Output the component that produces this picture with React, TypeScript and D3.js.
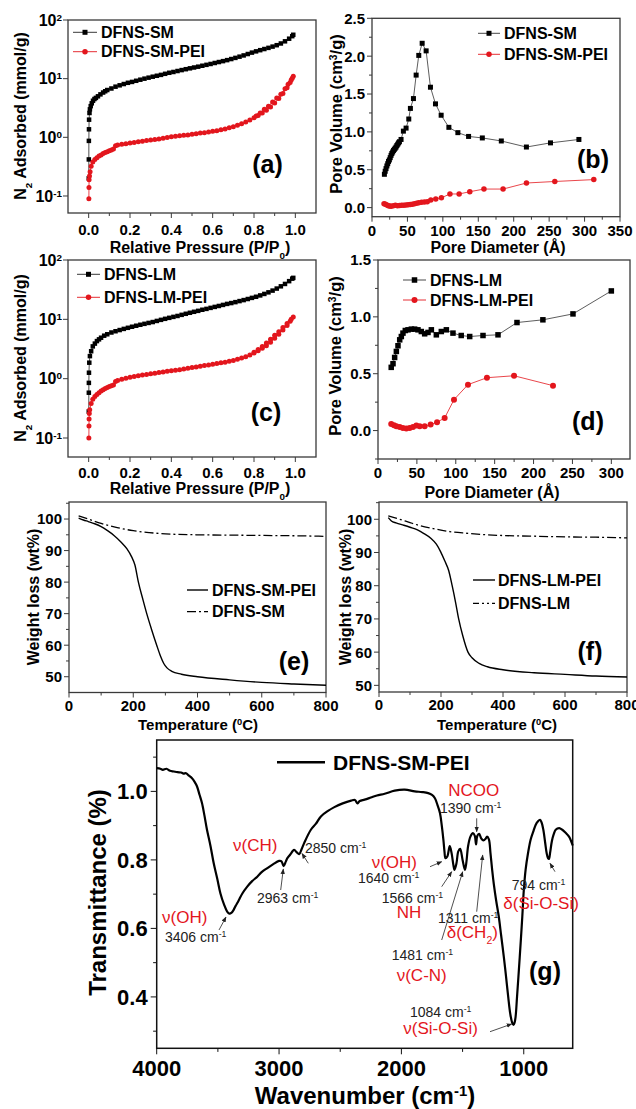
import React, { useEffect, useRef } from "react";
import * as d3 from "d3";

const W = 636;
const H = 1109;
const RED = "#e3161d";
const FONT = "'Liberation Sans', Arial, Helvetica, sans-serif";

// ---------- (a) N2 isotherms, DFNS-SM ----------
const aSM: [number, number][] = [
  [0.0005, 0.2], [0.0008, 0.42], [0.001, 0.87], [0.0015, 1.37], [0.002, 2.0], [0.004, 2.6], [0.006, 3.0],
  [0.01, 3.4], [0.015, 3.8], [0.021, 4.2], [0.028, 4.5], [0.035, 4.7], [0.045, 5.0], [0.057, 5.4], [0.07, 5.8],
  [0.08, 6.1], [0.09, 6.4], [0.11, 6.8], [0.13, 7.3], [0.15, 7.7], [0.17, 8.1], [0.19, 8.5], [0.21, 8.8],
  [0.23, 9.2], [0.25, 9.6], [0.27, 10.0], [0.29, 10.4], [0.31, 10.8], [0.33, 11.2], [0.35, 11.6], [0.37, 12.1],
  [0.39, 12.6], [0.41, 13.0], [0.43, 13.5], [0.45, 14.0], [0.47, 14.5], [0.49, 15.0], [0.51, 15.5], [0.53, 16.0],
  [0.55, 16.6], [0.57, 17.2], [0.59, 17.8], [0.61, 18.5], [0.63, 19.2], [0.65, 19.9], [0.67, 20.7], [0.69, 21.6],
  [0.71, 22.6], [0.73, 23.7], [0.75, 24.9], [0.77, 26.3], [0.79, 27.8], [0.81, 29.2], [0.83, 30.6], [0.85, 32.0],
  [0.87, 33.5], [0.89, 35.2], [0.91, 37.2], [0.93, 39.8], [0.95, 43.3], [0.97, 48.0], [0.985, 53.0], [0.99, 56.0],
];
const aSMPEI: [number, number][] = [
  [0.001, 0.09], [0.0015, 0.14], [0.002, 0.19], [0.004, 0.22], [0.007, 0.26], [0.012, 0.32], [0.02, 0.38],
  [0.03, 0.42], [0.04, 0.45], [0.05, 0.48], [0.06, 0.5], [0.07, 0.53], [0.08, 0.55], [0.09, 0.57], [0.1, 0.59],
  [0.11, 0.61], [0.12, 0.63], [0.13, 0.72], [0.14, 0.74], [0.16, 0.76], [0.18, 0.78], [0.2, 0.8], [0.22, 0.82],
  [0.24, 0.84], [0.26, 0.86], [0.28, 0.88], [0.3, 0.9], [0.32, 0.92], [0.34, 0.94], [0.36, 0.96], [0.38, 0.99],
  [0.4, 1.02], [0.42, 1.04], [0.44, 1.06], [0.46, 1.08], [0.48, 1.1], [0.5, 1.13], [0.52, 1.15], [0.54, 1.18],
  [0.56, 1.2], [0.58, 1.23], [0.6, 1.27], [0.62, 1.3], [0.64, 1.34], [0.66, 1.39], [0.68, 1.45], [0.7, 1.52],
  [0.72, 1.6], [0.74, 1.7], [0.76, 1.82], [0.78, 1.97], [0.8, 2.15], [0.82, 2.35], [0.84, 2.6], [0.86, 2.9],
  [0.88, 3.3], [0.9, 3.85], [0.92, 4.6], [0.94, 5.6], [0.96, 7.0], [0.975, 8.6], [0.985, 10.2], [0.99, 11.0],
  [0.98, 9.5], [0.965, 8.0], [0.95, 6.7], [0.93, 5.4], [0.91, 4.7], [0.89, 4.0], [0.87, 3.4], [0.85, 3.0],
  [0.83, 2.6], [0.81, 2.3],
];

// ---------- (c) N2 isotherms, DFNS-LM ----------
const cLM: [number, number][] = [
  [0.0005, 0.28], [0.0008, 0.58], [0.001, 0.85], [0.0015, 1.26], [0.003, 1.86], [0.006, 2.4], [0.012, 2.9],
  [0.02, 3.5], [0.03, 3.9], [0.04, 4.3], [0.05, 4.6], [0.06, 4.9], [0.075, 5.3], [0.09, 5.6], [0.11, 6.0],
  [0.13, 6.3], [0.15, 6.6], [0.17, 6.9], [0.19, 7.2], [0.21, 7.5], [0.23, 7.8], [0.25, 8.1], [0.27, 8.4],
  [0.29, 8.7], [0.31, 9.0], [0.33, 9.4], [0.35, 9.8], [0.37, 10.2], [0.39, 10.6], [0.41, 11.0], [0.43, 11.4],
  [0.45, 11.9], [0.47, 12.4], [0.49, 12.9], [0.51, 13.4], [0.53, 13.9], [0.55, 14.5], [0.57, 15.0], [0.59, 15.6],
  [0.61, 16.2], [0.63, 16.8], [0.65, 17.5], [0.67, 18.2], [0.69, 18.8], [0.71, 19.5], [0.73, 20.3], [0.75, 21.1],
  [0.77, 22.0], [0.79, 23.0], [0.81, 24.0], [0.83, 25.3], [0.85, 26.8], [0.87, 28.5], [0.89, 30.5], [0.91, 33.0],
  [0.93, 36.0], [0.95, 39.5], [0.97, 44.0], [0.985, 48.5], [0.99, 50.0],
];
const cLMPEI: [number, number][] = [
  [0.001, 0.1], [0.0015, 0.16], [0.002, 0.21], [0.003, 0.26], [0.005, 0.3], [0.012, 0.38], [0.02, 0.45],
  [0.03, 0.5], [0.04, 0.54], [0.05, 0.58], [0.06, 0.62], [0.07, 0.65], [0.08, 0.68], [0.09, 0.71], [0.1, 0.74],
  [0.11, 0.76], [0.12, 0.78], [0.13, 0.9], [0.14, 0.93], [0.16, 0.98], [0.18, 1.02], [0.2, 1.06], [0.22, 1.09],
  [0.24, 1.12], [0.26, 1.15], [0.28, 1.18], [0.3, 1.21], [0.32, 1.24], [0.34, 1.27], [0.36, 1.3], [0.38, 1.33],
  [0.4, 1.36], [0.42, 1.39], [0.44, 1.42], [0.46, 1.46], [0.48, 1.5], [0.5, 1.54], [0.52, 1.58], [0.54, 1.62],
  [0.56, 1.66], [0.58, 1.7], [0.6, 1.75], [0.62, 1.8], [0.64, 1.85], [0.66, 1.9], [0.68, 1.96], [0.7, 2.03],
  [0.72, 2.12], [0.74, 2.22], [0.76, 2.35], [0.78, 2.5], [0.8, 2.7], [0.82, 2.95], [0.84, 3.25], [0.86, 3.6],
  [0.88, 4.1], [0.9, 4.8], [0.92, 5.6], [0.94, 6.6], [0.96, 7.9], [0.975, 9.3], [0.99, 11.0],
  [0.98, 10.0], [0.96, 8.5], [0.94, 7.3], [0.92, 6.2], [0.9, 5.4], [0.88, 4.6], [0.86, 4.0], [0.84, 3.5],
  [0.82, 3.1], [0.8, 2.8],
];

// ---------- (b) pore size distribution, SM ----------
const bSM: [number, number][] = [
  [17.5, 0.44], [18.6, 0.48], [19.8, 0.515], [21, 0.55], [22.2, 0.58], [23.3, 0.61], [24.5, 0.63], [25.7, 0.66],
  [26.9, 0.69], [28, 0.715], [29.2, 0.735], [30.4, 0.755], [31.6, 0.77], [32.8, 0.785], [34, 0.8], [35.1, 0.82],
  [36.3, 0.837], [37.5, 0.855], [38.7, 0.87], [41, 0.9], [44.3, 1.01], [48.1, 1.05], [51.9, 1.17], [54.2, 1.31],
  [58.5, 1.44], [62.3, 1.75], [66, 2.01], [70.8, 2.17], [76.4, 2.07], [82.5, 1.59], [89.6, 1.37], [97.6, 1.22],
  [108.5, 1.06], [121.2, 0.99], [136.3, 0.94], [155.7, 0.92], [182.5, 0.88], [217.9, 0.8], [251.9, 0.855],
  [292, 0.9],
];
const bSMPEI: [number, number][] = [
  [17, 0.05], [19, 0.045], [21, 0.035], [23, 0.025], [25, 0.02], [27, 0.018], [30, 0.025], [33, 0.03],
  [36, 0.025], [39, 0.028], [42, 0.03], [45, 0.032], [48, 0.035], [51, 0.038], [54, 0.04], [57, 0.045],
  [60, 0.05], [63, 0.058], [66, 0.065], [70, 0.07], [74, 0.075], [78, 0.078], [83, 0.1], [90, 0.115],
  [98, 0.13], [110, 0.18], [123, 0.18], [138, 0.21], [158, 0.245], [185, 0.245], [218, 0.325], [258, 0.345],
  [313, 0.37],
];

// ---------- (d) pore size distribution, LM ----------
const dLM: [number, number][] = [
  [17, 0.556], [19.3, 0.588], [21.4, 0.643], [23.6, 0.696], [25.7, 0.746], [27.9, 0.798], [30, 0.827],
  [32.1, 0.857], [35.1, 0.88], [38.6, 0.886], [42.9, 0.892], [47.1, 0.892], [51.4, 0.886], [55.7, 0.871],
  [60, 0.851], [64.3, 0.863], [68.6, 0.886], [75, 0.842], [81.4, 0.871], [87.9, 0.886], [96.4, 0.857],
  [107, 0.836], [117.9, 0.827], [135, 0.836], [154.3, 0.842], [178.7, 0.95], [212, 0.974], [250.7, 1.026],
  [300, 1.228],
];
const dLMPEI: [number, number][] = [
  [17, 0.058], [20.6, 0.047], [23.6, 0.038], [27.9, 0.032], [32, 0.023], [36.4, 0.018], [40.7, 0.023],
  [45, 0.032], [49.3, 0.044], [53.6, 0.038], [60, 0.038], [67.7, 0.053], [75.9, 0.073], [85.7, 0.111],
  [97.7, 0.272], [115.7, 0.404], [140.1, 0.465], [174.9, 0.482], [225, 0.395],
];

// ---------- (e), (f) TGA ----------
const eSMPEI: [number, number][] = [
  [30, 100.3], [45, 99.7], [60, 99.2], [80, 98.5], [100, 97.6], [120, 96.3], [140, 94.8], [160, 92.9],
  [180, 90.6], [195, 88], [205, 85.5], [216, 80], [230, 74.5], [242, 70], [257, 65], [273, 60], [285, 56.5],
  [295, 54.2], [305, 52.8], [320, 51.7], [350, 50.8], [400, 50], [500, 49], [600, 48.2], [700, 47.7], [800, 47.3],
];
const eSM: [number, number][] = [
  [30, 101], [60, 100], [100, 98.6], [150, 97.3], [200, 96.3], [250, 95.7], [300, 95.3], [400, 95],
  [500, 94.9], [600, 94.8], [700, 94.7], [800, 94.5],
];
const fLMPEI: [number, number][] = [
  [30, 100.5], [40, 99.5], [55, 98.9], [80, 98.2], [100, 97.6], [124, 96.8], [145, 95.7], [167, 94.3],
  [185, 92.5], [199, 90.2], [212, 87.5], [225, 84.5], [236, 80], [247, 75], [257, 70], [270, 65], [287, 60],
  [300, 58.3], [323, 56.6], [350, 55.6], [400, 54.7], [500, 53.8], [600, 53.3], [700, 52.8], [800, 52.5],
];
const fLM: [number, number][] = [
  [30, 101], [60, 100.2], [100, 99], [124, 98.3], [175, 97.2], [228, 96.3], [280, 95.8], [334, 95.4],
  [400, 95.1], [500, 94.9], [600, 94.7], [700, 94.6], [800, 94.4],
];

// ---------- (g) FTIR ----------
const gFTIR: [number, number][] = [
  [4000, 1.068], [3970, 1.066], [3950, 1.063], [3920, 1.066], [3891, 1.06], [3860, 1.058], [3830, 1.056],
  [3800, 1.055], [3781, 1.052], [3760, 1.053], [3740, 1.047], [3713, 1.039], [3690, 1.028], [3671, 1.015],
  [3650, 0.99], [3630, 0.966], [3610, 0.93], [3589, 0.888], [3560, 0.84], [3534, 0.79], [3505, 0.745],
  [3479, 0.702], [3450, 0.67], [3424, 0.649], [3406, 0.643], [3390, 0.645], [3370, 0.655], [3356, 0.665],
  [3340, 0.675], [3328, 0.683], [3300, 0.702], [3260, 0.722], [3220, 0.738], [3178, 0.751], [3140, 0.765],
  [3096, 0.776], [3050, 0.787], [3000, 0.797], [2980, 0.796], [2963, 0.782], [2945, 0.795], [2932, 0.805],
  [2910, 0.815], [2877, 0.829], [2855, 0.822], [2836, 0.817], [2815, 0.832], [2795, 0.849], [2740, 0.888],
  [2700, 0.905], [2658, 0.927], [2600, 0.943], [2548, 0.954], [2480, 0.965], [2411, 0.973], [2380, 0.975],
  [2360, 0.965], [2340, 0.972], [2301, 0.976], [2250, 0.982], [2200, 0.988], [2137, 0.993], [2055, 1.002],
  [1973, 1.005], [1891, 1.0], [1830, 0.998], [1781, 0.995], [1750, 0.99], [1726, 0.98], [1705, 0.96],
  [1685, 0.937], [1670, 0.9], [1657, 0.859], [1648, 0.825], [1640, 0.805], [1625, 0.81], [1605, 0.84],
  [1590, 0.82], [1575, 0.785], [1566, 0.771], [1550, 0.79], [1535, 0.825], [1520, 0.832], [1500, 0.8],
  [1481, 0.771], [1470, 0.79], [1455, 0.84], [1436, 0.868], [1415, 0.878], [1400, 0.87], [1390, 0.845],
  [1380, 0.87], [1365, 0.876], [1346, 0.862], [1330, 0.857], [1311, 0.862], [1300, 0.868], [1285, 0.86],
  [1272, 0.82], [1258, 0.77], [1245, 0.73], [1225, 0.68], [1204, 0.634], [1185, 0.58], [1163, 0.517],
  [1145, 0.46], [1127, 0.4], [1110, 0.35], [1095, 0.325], [1084, 0.318], [1075, 0.325], [1067, 0.341],
  [1055, 0.4], [1040, 0.478], [1025, 0.56], [1012, 0.634], [1000, 0.71], [985, 0.771], [965, 0.82],
  [944, 0.859], [920, 0.885], [903, 0.902], [885, 0.912], [867, 0.917], [855, 0.91], [840, 0.888],
  [825, 0.85], [813, 0.82], [802, 0.805], [794, 0.803], [785, 0.82], [770, 0.855], [755, 0.875],
  [739, 0.888], [710, 0.893], [685, 0.888], [660, 0.88], [630, 0.868], [600, 0.842],
];

// ---------- tick values ----------
const pressTicks = [0, 0.2, 0.4, 0.6, 0.8, 1.0];
const pressMinor = [0.1, 0.3, 0.5, 0.7, 0.9];
const logTicks = [0.1, 1, 10, 100];
const bXTicks = [0, 50, 100, 150, 200, 250, 300, 350];
const bYTicks = [0, 0.5, 1.0, 1.5, 2.0, 2.5];
const dXTicks = [0, 50, 100, 150, 200, 250, 300];
const dYTicks = [0, 0.5, 1.0, 1.5];
const tgaXTicks = [0, 200, 400, 600, 800];
const tgaXMinor = [100, 300, 500, 700];
const tgaYTicks = [50, 60, 70, 80, 90, 100];
const gXTicks = [4000, 3000, 2000, 1000];
const gXMinor = [3500, 2500, 1500];
const gYTicks = [0.4, 0.6, 0.8, 1.0];
const gYMinor = [0.3, 0.5, 0.7, 0.9, 1.1];

type Sel = d3.Selection<any, any, any, any>;
type Part = [string, string?];

function rtext(
  g: Sel, x: number, y: number, parts: Part[],
  o: { size: number; weight?: string; fill?: string; anchor?: string; rotate?: boolean }
) {
  const t = g.append("text")
    .attr("font-family", FONT)
    .attr("font-size", o.size)
    .attr("font-weight", o.weight || "normal")
    .attr("fill", o.fill || "#000")
    .attr("text-anchor", o.anchor || "start");
  if (o.rotate) t.attr("transform", `translate(${x},${y}) rotate(-90)`).attr("dy", "0.35em");
  else t.attr("x", x).attr("y", y);
  parts.forEach(([s, k]) => {
    const ts = t.append("tspan").text(s);
    if (k === "sup") ts.attr("baseline-shift", "super").attr("font-size", o.size * 0.62);
    if (k === "sub") ts.attr("baseline-shift", "sub").attr("font-size", o.size * 0.62);
  });
  return t;
}

function frame(g: Sel, xs: any, ys: any, color: string, sw: number) {
  const [x0, x1] = xs.range();
  const [y0, y1] = ys.range();
  g.append("rect")
    .attr("x", Math.min(x0, x1)).attr("y", Math.min(y0, y1))
    .attr("width", Math.abs(x1 - x0)).attr("height", Math.abs(y1 - y0))
    .attr("fill", "none").attr("stroke", color).attr("stroke-width", sw);
}

function toParts(r: string | Part[]): Part[] {
  return typeof r === "string" ? [[r]] : r;
}

function xAxis(g: Sel, xs: any, ys: any, major: number[], minor: number[], fmt: (v: number) => string | Part[],
  o: { size: number; len: number; gap: number; color: string }) {
  const yb = ys.range()[0];
  major.forEach((v) => {
    g.append("line").attr("x1", xs(v)).attr("x2", xs(v)).attr("y1", yb).attr("y2", yb + o.len)
      .attr("stroke", o.color).attr("stroke-width", 1);
    rtext(g, xs(v), yb + o.gap, toParts(fmt(v)), { size: o.size, weight: "bold", anchor: "middle" });
  });
  minor.forEach((v) => {
    g.append("line").attr("x1", xs(v)).attr("x2", xs(v)).attr("y1", yb).attr("y2", yb + o.len * 0.6)
      .attr("stroke", o.color).attr("stroke-width", 1);
  });
}

function yAxis(g: Sel, xs: any, ys: any, major: number[], minor: number[], fmt: (v: number) => string | Part[],
  o: { size: number; len: number; gap: number; color: string }) {
  const xl = xs.range()[0];
  major.forEach((v) => {
    g.append("line").attr("x1", xl - o.len).attr("x2", xl).attr("y1", ys(v)).attr("y2", ys(v))
      .attr("stroke", o.color).attr("stroke-width", 1);
    rtext(g, xl - o.gap, ys(v) + o.size * 0.36, toParts(fmt(v)), { size: o.size, weight: "bold", anchor: "end" });
  });
  minor.forEach((v) => {
    g.append("line").attr("x1", xl - o.len * 0.6).attr("x2", xl).attr("y1", ys(v)).attr("y2", ys(v))
      .attr("stroke", o.color).attr("stroke-width", 1);
  });
}

function series(g: Sel, xs: any, ys: any, data: [number, number][], color: string, lineColor: string,
  shape: "sq" | "ci", size: number) {
  const line = d3.line<[number, number]>().x((d) => xs(d[0])).y((d) => ys(d[1]));
  g.append("path").attr("d", line(data)).attr("fill", "none").attr("stroke", lineColor).attr("stroke-width", 0.8);
  data.forEach((d) => {
    if (shape === "sq") {
      g.append("rect").attr("x", xs(d[0]) - size / 2).attr("y", ys(d[1]) - size / 2)
        .attr("width", size).attr("height", size).attr("fill", color);
    } else {
      g.append("circle").attr("cx", xs(d[0])).attr("cy", ys(d[1])).attr("r", size / 2).attr("fill", color);
    }
  });
}

function legendMark(g: Sel, x0: number, x1: number, y: number, color: string, lineColor: string,
  shape: "sq" | "ci", size: number, label: string, fs: number) {
  g.append("line").attr("x1", x0).attr("x2", x1).attr("y1", y).attr("y2", y)
    .attr("stroke", lineColor).attr("stroke-width", 0.9);
  const cx = (x0 + x1) / 2;
  if (shape === "sq") g.append("rect").attr("x", cx - size / 2).attr("y", y - size / 2)
    .attr("width", size).attr("height", size).attr("fill", color);
  else g.append("circle").attr("cx", cx).attr("cy", y).attr("r", size / 2).attr("fill", color);
  rtext(g, x1 + 4, y + fs * 0.36, [[label]], { size: fs, weight: "bold" });
}

const AX = "#3a3a3a";
const logFmt = (v: number): Part[] => [["10"], [String(Math.round(Math.log10(v))), "sup"]];
const f1 = (v: number) => v.toFixed(1);
const f0 = (v: number) => String(v);

function draw(svg: Sel) {
  const defs = svg.append("defs");
  defs.append("marker").attr("id", "arrowHead").attr("viewBox", "0 0 10 10")
    .attr("refX", 9).attr("refY", 5).attr("markerWidth", 7).attr("markerHeight", 7)
    .attr("orient", "auto")
    .append("path").attr("d", "M0,1 L10,5 L0,9 z").attr("fill", "#222");

  svg.append("rect").attr("width", W).attr("height", H).attr("fill", "#fff");
  const g = svg.append("g");
  const tk = { size: 15, len: 5, gap: 22, color: AX };
  const tky = { size: 15, len: 5, gap: 7, color: AX };

  // ===== (a) =====
  {
    const xs = d3.scaleLinear([-0.1, 1.1], [68, 316]);
    const ys = d3.scaleLog([Math.pow(10, -1.29), 100], [213, 20]);
    frame(g, xs, ys, AX, 1.3);
    xAxis(g, xs, ys, pressTicks, pressMinor, f1, tk);
    yAxis(g, xs, ys, logTicks, [], logFmt, { ...tky, size: 16, gap: 6 });
    series(g, xs, ys, aSM, "#000", "#222", "sq", 4.5);
    series(g, xs, ys, aSMPEI, RED, RED, "ci", 5);
    legendMark(g, 73, 97, 32.3, "#000", "#222", "sq", 5, "DFNS-SM", 16);
    legendMark(g, 73, 97, 51.7, RED, RED, "ci", 5.5, "DFNS-SM-PEI", 16);
    rtext(g, 267.5, 173, [["(a)"]], { size: 25, weight: "bold", anchor: "middle" });
    rtext(g, 20, 116, [["N"], ["2", "sub"], [" Adsorbed (mmol/g)"]], { size: 16, weight: "bold", anchor: "middle", rotate: true });
    rtext(g, 200, 252.5, [["Relative Pressure (P/P"], ["0", "sub"], [")"]], { size: 16, weight: "bold", anchor: "middle" });
  }

  // ===== (b) =====
  {
    const xs = d3.scaleLinear([0, 350], [372, 620]);
    const ys = d3.scaleLinear([-0.12, 2.5], [216.7, 18.3]);
    frame(g, xs, ys, AX, 1.3);
    xAxis(g, xs, ys, bXTicks, [25, 75, 125, 175, 225, 275, 325], f0, { ...tk, gap: 19 });
    yAxis(g, xs, ys, bYTicks, [0.25, 0.75, 1.25, 1.75, 2.25], f1, tky);
    series(g, xs, ys, bSM, "#000", "#333", "sq", 5);
    series(g, xs, ys, bSMPEI, RED, RED, "ci", 5.5);
    legendMark(g, 478, 500, 33.3, "#000", "#333", "sq", 5, "DFNS-SM", 16);
    legendMark(g, 478, 500, 54.3, RED, RED, "ci", 5.5, "DFNS-SM-PEI", 16);
    rtext(g, 593, 168, [["(b)"]], { size: 25, weight: "bold", anchor: "middle" });
    rtext(g, 336, 114, [["Pore Volume (cm"], ["3", "sup"], ["/g)"]], { size: 16.5, weight: "bold", anchor: "middle", rotate: true });
    rtext(g, 498, 253, [["Pore Diameter (Å)"]], { size: 16, weight: "bold", anchor: "middle" });
  }

  // ===== (c) =====
  {
    const xs = d3.scaleLinear([-0.1, 1.1], [68, 316]);
    const ys = d3.scaleLog([Math.pow(10, -1.32), 100], [457, 260]);
    frame(g, xs, ys, AX, 1.3);
    xAxis(g, xs, ys, pressTicks, pressMinor, f1, { ...tk, gap: 21 });
    yAxis(g, xs, ys, logTicks, [], logFmt, { ...tky, size: 16, gap: 6 });
    series(g, xs, ys, cLM, "#000", "#222", "sq", 4.5);
    series(g, xs, ys, cLMPEI, RED, RED, "ci", 5);
    legendMark(g, 77, 100, 274.3, "#000", "#222", "sq", 5, "DFNS-LM", 16);
    legendMark(g, 77, 100, 297.3, RED, RED, "ci", 5.5, "DFNS-LM-PEI", 16);
    rtext(g, 266, 421, [["(c)"]], { size: 25, weight: "bold", anchor: "middle" });
    rtext(g, 20, 358, [["N"], ["2", "sub"], [" Adsorbed (mmol/g)"]], { size: 16, weight: "bold", anchor: "middle", rotate: true });
    rtext(g, 200, 494, [["Relative Pressure (P/P"], ["0", "sub"], [")"]], { size: 16, weight: "bold", anchor: "middle" });
  }

  // ===== (d) =====
  {
    const xs = d3.scaleLinear([0, 324], [378, 630]);
    const ys = d3.scaleLinear([-0.25, 1.5], [459, 260]);
    frame(g, xs, ys, AX, 1.3);
    xAxis(g, xs, ys, dXTicks, [25, 75, 125, 175, 225, 275], f0, { ...tk, gap: 19 });
    yAxis(g, xs, ys, dYTicks, [-0.25, 0.25, 0.75, 1.25], f1, tky);
    series(g, xs, ys, dLM, "#000", "#333", "sq", 5.5);
    series(g, xs, ys, dLMPEI, RED, RED, "ci", 6);
    legendMark(g, 403, 426, 280, "#000", "#333", "sq", 5.5, "DFNS-LM", 16);
    legendMark(g, 403, 426, 300, RED, RED, "ci", 6, "DFNS-LM-PEI", 16);
    rtext(g, 588, 430, [["(d)"]], { size: 25, weight: "bold", anchor: "middle" });
    rtext(g, 335, 356, [["Pore Volume (cm"], ["3", "sup"], ["/g)"]], { size: 16.5, weight: "bold", anchor: "middle", rotate: true });
    rtext(g, 492, 497.5, [["Pore Diameter (Å)"]], { size: 16, weight: "bold", anchor: "middle" });
  }

  // ===== (e) =====
  {
    const xs = d3.scaleLinear([0, 800], [69, 326]);
    const ys = d3.scaleLinear([45, 105.4], [692.5, 502]);
    frame(g, xs, ys, AX, 1.3);
    xAxis(g, xs, ys, tgaXTicks, tgaXMinor, f0, { ...tk, gap: 18 });
    yAxis(g, xs, ys, tgaYTicks, [55, 65, 75, 85, 95, 105], f0, tky);
    const line = d3.line<[number, number]>().x((d) => xs(d[0])).y((d) => ys(d[1])).curve(d3.curveMonotoneX);
    g.append("path").attr("d", line(eSMPEI)).attr("fill", "none").attr("stroke", "#000").attr("stroke-width", 1.4);
    g.append("path").attr("d", line(eSM)).attr("fill", "none").attr("stroke", "#000").attr("stroke-width", 1.3)
      .attr("stroke-dasharray", "9,3,2,3");
    g.append("line").attr("x1", 187).attr("x2", 208).attr("y1", 590).attr("y2", 590).attr("stroke", "#000").attr("stroke-width", 1.4);
    rtext(g, 212, 595.5, [["DFNS-SM-PEI"]], { size: 16, weight: "bold" });
    g.append("line").attr("x1", 187).attr("x2", 208).attr("y1", 611.7).attr("y2", 611.7).attr("stroke", "#000").attr("stroke-width", 1.3)
      .attr("stroke-dasharray", "9,3,2,3");
    rtext(g, 212, 617.2, [["DFNS-SM"]], { size: 16, weight: "bold" });
    rtext(g, 294, 670, [["(e)"]], { size: 25, weight: "bold", anchor: "middle" });
    rtext(g, 33, 597, [["Weight loss (wt%)"]], { size: 16, weight: "bold", anchor: "middle", rotate: true });
    rtext(g, 198, 730, [["Temperature ("], ["0", "sup"], ["C)"]], { size: 15, weight: "bold", anchor: "middle" });
  }

  // ===== (f) =====
  {
    const xs = d3.scaleLinear([0, 800], [379, 627]);
    const ys = d3.scaleLinear([48, 105.2], [692, 502]);
    frame(g, xs, ys, AX, 1.3);
    xAxis(g, xs, ys, tgaXTicks, tgaXMinor, f0, { ...tk, gap: 18 });
    yAxis(g, xs, ys, tgaYTicks, [55, 65, 75, 85, 95, 105], f0, tky);
    const line = d3.line<[number, number]>().x((d) => xs(d[0])).y((d) => ys(d[1])).curve(d3.curveMonotoneX);
    g.append("path").attr("d", line(fLMPEI)).attr("fill", "none").attr("stroke", "#000").attr("stroke-width", 1.4);
    g.append("path").attr("d", line(fLM)).attr("fill", "none").attr("stroke", "#000").attr("stroke-width", 1.3)
      .attr("stroke-dasharray", "9,3,2,3");
    g.append("line").attr("x1", 473).attr("x2", 495).attr("y1", 580).attr("y2", 580).attr("stroke", "#000").attr("stroke-width", 1.4);
    rtext(g, 498, 585.5, [["DFNS-LM-PEI"]], { size: 16, weight: "bold" });
    g.append("line").attr("x1", 473).attr("x2", 495).attr("y1", 603.3).attr("y2", 603.3).attr("stroke", "#000").attr("stroke-width", 1.3)
      .attr("stroke-dasharray", "6,3,2,3,2,3");
    rtext(g, 498, 608.8, [["DFNS-LM"]], { size: 16, weight: "bold" });
    rtext(g, 590, 660, [["(f)"]], { size: 25, weight: "bold", anchor: "middle" });
    rtext(g, 345, 597, [["Weight loss (wt%)"]], { size: 16, weight: "bold", anchor: "middle", rotate: true });
    rtext(g, 497, 730, [["Temperature ("], ["0", "sup"], ["C)"]], { size: 15, weight: "bold", anchor: "middle" });
  }

  // ===== (g) =====
  {
    const xs = d3.scaleLinear([4000, 600], [156.7, 572.7]);
    const ys = d3.scaleLinear([0.25, 1.15], [1048.3, 740]);
    frame(g, xs, ys, "#111", 1.5);
    xAxis(g, xs, ys, gXTicks, gXMinor, f0, { size: 22, len: 6, gap: 28, color: "#111" });
    yAxis(g, xs, ys, gYTicks, gYMinor, f1, { size: 22, len: 6, gap: 9, color: "#111" });
    const line = d3.line<[number, number]>().x((d) => xs(d[0])).y((d) => ys(d[1])).curve(d3.curveCatmullRom);
    g.append("path").attr("d", line(gFTIR)).attr("fill", "none").attr("stroke", "#000").attr("stroke-width", 2.2)
      .attr("stroke-linejoin", "round");
    g.append("line").attr("x1", 277).attr("x2", 325).attr("y1", 762.3).attr("y2", 762.3).attr("stroke", "#000").attr("stroke-width", 2.5);
    rtext(g, 333, 769.8, [["DFNS-SM-PEI"]], { size: 21, weight: "bold" });
    rtext(g, 545, 980, [["(g)"]], { size: 25, weight: "bold", anchor: "middle" });
    rtext(g, 98, 892.5, [["Transmittance (%)"]], { size: 24, weight: "bold", anchor: "middle", rotate: true });
    rtext(g, 365, 1104, [["Wavenumber (cm"], ["-1", "sup"], [")"]], { size: 24, weight: "bold", anchor: "middle" });

    const ann: { t: Part[]; x: number; y: number; red: boolean }[] = [
      { t: [["ν(OH)"]], x: 162, y: 916.7, red: true },
      { t: [["3406 cm"], ["-1", "sup"]], x: 165, y: 936.7, red: false },
      { t: [["ν(CH)"]], x: 233, y: 845, red: true },
      { t: [["2963 cm"], ["-1", "sup"]], x: 257, y: 897.7, red: false },
      { t: [["2850 cm"], ["-1", "sup"]], x: 305, y: 848.3, red: false },
      { t: [["ν(OH)"]], x: 371.7, y: 861.7, red: true },
      { t: [["1640 cm"], ["-1", "sup"]], x: 358, y: 878.3, red: false },
      { t: [["1566 cm"], ["-1", "sup"]], x: 381.7, y: 898.3, red: false },
      { t: [["NH"]], x: 396.7, y: 911.7, red: true },
      { t: [["1311 cm"], ["-1", "sup"]], x: 438, y: 918.3, red: false },
      { t: [["δ(CH"], ["2", "sub"], [")"]], x: 446.7, y: 931.7, red: true },
      { t: [["1481 cm"], ["-1", "sup"]], x: 391.7, y: 955, red: false },
      { t: [["ν(C-N)"]], x: 396.7, y: 975, red: true },
      { t: [["NCOO"]], x: 448.3, y: 790, red: true },
      { t: [["1390 cm"], ["-1", "sup"]], x: 440, y: 808.3, red: false },
      { t: [["794 cm"], ["-1", "sup"]], x: 511.7, y: 885, red: false },
      { t: [["δ(Si-O-Si)"]], x: 503.3, y: 903.3, red: true },
      { t: [["1084 cm"], ["-1", "sup"]], x: 410, y: 1011.7, red: false },
      { t: [["ν(Si-O-Si)"]], x: 403.3, y: 1028.3, red: true },
    ];
    ann.forEach((a) => {
      const size = a.red ? 17 : 14;
      rtext(g, a.x, a.y + size * 0.36, a.t, { size, fill: a.red ? RED : "#222" });
    });

    const arrows: [number, number, number, number][] = [
      [219, 930, 226, 917],
      [280.7, 890, 283.3, 869],
      [308.3, 863.3, 302, 853.5],
      [430, 866.7, 441.7, 861.7],
      [441.7, 886.7, 451.7, 871.7],
      [441.7, 940, 462.7, 871.7],
      [476.7, 911.7, 482.7, 855],
      [476.7, 818.3, 476.7, 831.7],
      [555, 871.7, 550, 863.3],
      [490, 1031.7, 511.7, 1024],
    ];
    arrows.forEach(([x1, y1, x2, y2]) => {
      g.append("line").attr("x1", x1).attr("y1", y1).attr("x2", x2).attr("y2", y2)
        .attr("stroke", "#222").attr("stroke-width", 0.8).attr("marker-end", "url(#arrowHead)");
    });
  }
}

export default function App() {
  const ref = useRef<SVGSVGElement>(null);
  useEffect(() => {
    if (!ref.current) return;
    const svg = d3.select(ref.current);
    svg.selectAll("*").remove();
    draw(svg as any);
  }, []);
  return (
    <svg
      ref={ref}
      width={W}
      height={H}
      style={{ position: "absolute", left: 0, top: 0, display: "block", background: "#fff" }}
    />
  );
}
